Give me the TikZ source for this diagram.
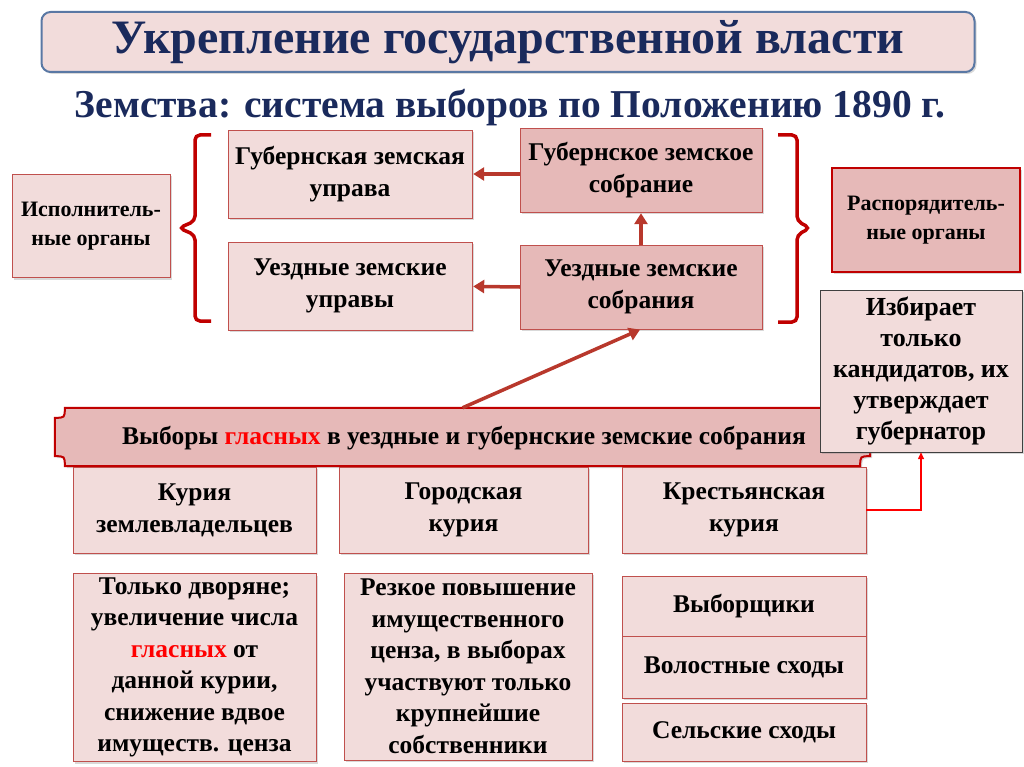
\documentclass[tikz,border=0pt]{standalone}
\usepackage{fontspec}
\setmainfont{Liberation Serif}
\usetikzlibrary{arrows.meta,positioning,shadows}
\definecolor{inkblue}{HTML}{1A2A5C}
\definecolor{paleros}{HTML}{F2DCDB}
\definecolor{deeprose}{HTML}{E6B9B8}
\definecolor{roseline}{HTML}{C0504D}
\definecolor{hardred}{HTML}{C00000}
\definecolor{arrowred}{HTML}{B8382C}
\definecolor{slateline}{HTML}{5A78A4}
\newcommand{\glas}[1]{\textcolor{red}{#1}}

\begin{document}
\begin{tikzpicture}[
  x=1pt, y=-1pt,
  node distance=24pt and 24pt,
  shade/.style={drop shadow={shadow xshift=2pt, shadow yshift=-2pt, opacity=.3}},
  box/.style={draw=roseline, fill=paleros, shade, minimum width=244pt, minimum height=88pt, inner sep=2pt, align=center, font=\fontsize{25.5}{32}\selectfont\bfseries},
  boxdark/.style={box, fill=deeprose, minimum width=242pt, minimum height=84pt},
  organ/.style={box, minimum width=158pt, minimum height=103pt, font=\fontsize{22}{29}\selectfont\bfseries},
  textbox/.style={box, minimum height=188pt, font=\fontsize{25.5}{31.5}\selectfont\bfseries},
  stackbox/.style={box, minimum height=60pt, shade/.style={}},
  bracket/.style={draw=hardred, line width=3.5pt, rounded corners=5pt},
  arrow/.style={-{Triangle[length=11pt, width=13pt]}, line width=3.5pt, color=arrowred, shorten >=1pt},
  link/.style={-{Triangle[length=7pt, width=6pt]}, line width=1.3pt, color=red}
]
\useasboundingbox (0,0) rectangle (1024,767);

% heading
\node[draw=slateline, line width=2pt, fill=paleros, rounded corners=9pt, shade,
  minimum width=933pt, minimum height=60pt, text=inkblue,
  font=\fontsize{48}{52}\selectfont\bfseries] (title) at (508,42) {Укрепление государственной власти};
\node[text=inkblue, font=\fontsize{39.5}{44}\selectfont\bfseries] (sub) at (510,108) {Земства: система выборов по Положению 1890 г.};

% executive and administrative bodies
\node[organ] (exec) at (91,226) {Исполнитель-\\ные органы};
\node[box] (guprava) at (350,174) {Губернская земская\\управа};
\node[box, below=of guprava] (uuprava) {Уездные земские\\управы};
\node[boxdark] (gsobr) at (641,170) {Губернское земское\\собрание};
\node[boxdark] (usobr) at (641,287) {Уездные земские\\собрания};
\node[organ, fill=deeprose, draw=hardred, line width=2.5pt, minimum width=188pt, minimum height=104pt] (admin) at (926,220) {Распорядитель-\\ные органы};

\draw[bracket] (211,135) -- (195,135) -- (195,221) -- (179,228) -- (195,235) -- (195,321) -- (211,321);
\draw[bracket] (778,135) -- (797,135) -- (797,221) -- (810,228) -- (797,235) -- (797,322) -- (778,322);

\draw[arrow] (gsobr.west |- guprava.east) -- (guprava.east);
\draw[arrow] (usobr.west) -- (uuprava.east);
\draw[arrow] (usobr.north) -- (gsobr.south);

% elections banner
\node[minimum width=815pt, minimum height=58pt] (banner) at (462.5,437) {};
\draw[draw=hardred, line width=2pt, fill=deeprose, shade]
  ([yshift=-10pt]banner.north west) .. controls ([xshift=10pt,yshift=-10pt]banner.north west) .. ([xshift=10pt]banner.north west)
  -- ([xshift=-10pt]banner.north east) .. controls ([xshift=-10pt,yshift=-10pt]banner.north east) .. ([yshift=-10pt]banner.north east)
  -- ([yshift=10pt]banner.south east) .. controls ([xshift=-10pt,yshift=10pt]banner.south east) .. ([xshift=-10pt]banner.south east)
  -- ([xshift=10pt]banner.south west) .. controls ([xshift=10pt,yshift=10pt]banner.south west) .. ([yshift=10pt]banner.south west)
  -- cycle;
\node[font=\fontsize{25.5}{30}\selectfont\bfseries] (bannertext) at (464,438) {Выборы \glas{гласных} в уездные и губернские земские собрания};
\draw[arrow] (banner.north) -- (usobr.south);

% curiae
\node[box, minimum width=243pt, minimum height=86pt] (land) at (194.5,510) {Курия\\землевладельцев};
\node[box, minimum width=249pt, minimum height=86pt] (town) at (463.5,510) {Городская\\курия};
\node[box, minimum width=244pt, minimum height=86pt] (peasant) at (744,510) {Крестьянская\\курия};

\node[textbox, minimum width=243pt] (landnote) at (194.5,667.5) {Только дворяне;\\увеличение числа\\\glas{гласных} от\\данной курии,\\снижение вдвое\\имуществ. ценза};
\node[textbox, minimum width=248pt, minimum height=187pt] (townnote) at (468,666.5) {Резкое повышение\\имущественного\\ценза, в выборах\\участвуют только\\крупнейшие\\собственники};

\node[stackbox] (electors) at (744,606) {Выборщики};
\node[stackbox, minimum height=62pt, below=0pt of electors] (volost) {Волостные сходы};
\node[box, minimum height=58pt, below=4pt of volost] (village) {Сельские сходы};

% governor note
\node[box, draw=black!75, minimum width=202pt, minimum height=162pt, font=\fontsize{26}{31}\selectfont\bfseries] (elect) at (921,371) {Избирает\\только\\кандидатов, их\\утверждает\\губернатор};
\draw[link] (peasant.east) -| (elect.south);
\end{tikzpicture}
\end{document}
